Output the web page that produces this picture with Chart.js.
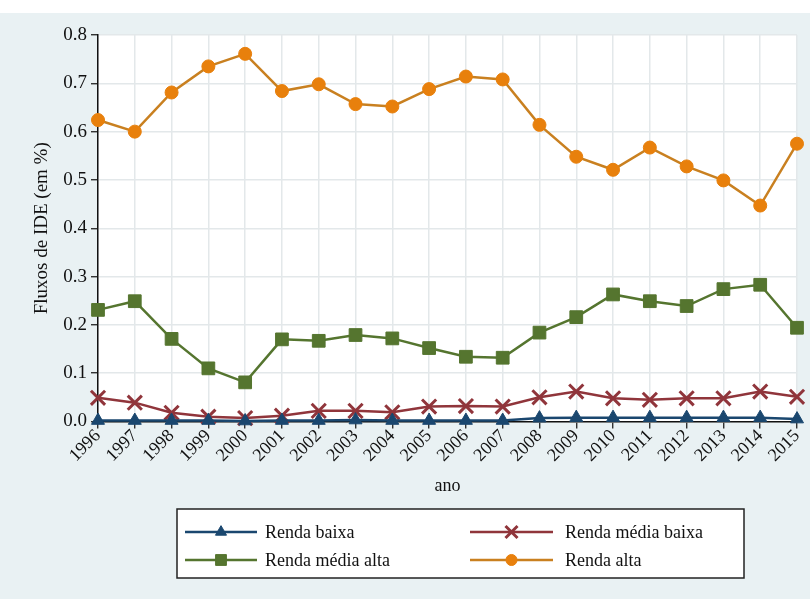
<!DOCTYPE html>
<html>
<head>
<meta charset="utf-8">
<script src="https://cdn.jsdelivr.net/npm/chart.js@4.4.1/dist/chart.umd.min.js"></script>
<style>
  html, body { margin: 0; padding: 0; background: #ffffff; }
  #wrap { position: absolute; left: 0; top: 13px; width: 810px; height: 586px; background: #e9f1f3; }
</style>
</head>
<body>
<div id="wrap"><canvas id="chart"></canvas></div>
<script>
// Fluxos de IDE por grupo de renda, 1996-2015
const years = ['1996','1997','1998','1999','2000','2001','2002','2003','2004','2005',
               '2006','2007','2008','2009','2010','2011','2012','2013','2014','2015'];
const yTicks = [0, 0.1, 0.2, 0.3, 0.4, 0.5, 0.6, 0.7, 0.8];

const rendaBaixa      = [0.002,0.002,0.002,0.002,0.001,0.002,0.002,0.003,0.002,0.002,
                         0.002,0.002,0.007,0.008,0.008,0.008,0.008,0.008,0.008,0.005];
const rendaMediaBaixa = [0.049,0.039,0.018,0.010,0.007,0.012,0.022,0.022,0.019,0.031,
                         0.032,0.031,0.050,0.062,0.048,0.045,0.048,0.048,0.062,0.051];
const rendaMediaAlta  = [0.231,0.249,0.171,0.110,0.081,0.170,0.167,0.179,0.172,0.152,
                         0.134,0.132,0.184,0.216,0.263,0.249,0.239,0.274,0.283,0.194];
const rendaAlta       = [0.624,0.600,0.681,0.735,0.761,0.684,0.698,0.657,0.652,0.688,
                         0.714,0.708,0.614,0.548,0.521,0.567,0.528,0.499,0.447,0.575];

const SERIF = "'Liberation Serif', 'DejaVu Serif', serif";

function series(label, data, line, fill, style, radius, bw){
    return {
        label: label,
        data: data,
        borderColor: line,
        backgroundColor: fill,
        borderWidth: 2.5,
        pointStyle: style,
        pointRadius: radius,
        pointHoverRadius: radius,
        pointBackgroundColor: fill,
        pointBorderColor: fill,
        pointBorderWidth: bw,
        tension: 0,
        clip: false
    };
}

const datasets = [
    series('Renda baixa', rendaBaixa, '#1a476f', '#1a476f', 'triangle', 7.5, 1),
    series('Renda média baixa', rendaMediaBaixa, '#90353b', '#90353b', 'crossRot', 10, 3),
    series('Renda média alta', rendaMediaAlta, '#55752f', '#55752f', 'rect', 9, 1),
    series('Renda alta', rendaAlta, '#c98020', '#e8800c', 'circle', 6.5, 1)
];

// white plot region
const plotBg = {
    id: 'plotBg',
    beforeDraw(chart){
        const a = chart.chartArea, ctx = chart.ctx;
        ctx.save();
        ctx.fillStyle = '#ffffff';
        ctx.fillRect(a.left, a.top, a.right - a.left, a.bottom - a.top);
        ctx.restore();
    }
};

// boxed legend, two columns like the Stata key
const boxLegend = {
    id: 'boxLegend',
    afterDraw(chart){
        const ctx = chart.ctx;
        const box = { x: 177, y: 496, w: 567, h: 69 };
        const rows = [519, 547];
        const cols = [{ x0: 185, x1: 257, tx: 265 }, { x0: 470, x1: 553, tx: 565 }];
        ctx.save();
        ctx.fillStyle = '#ffffff';
        ctx.fillRect(box.x, box.y, box.w, box.h);
        ctx.strokeStyle = '#222222';
        ctx.lineWidth = 1.5;
        ctx.strokeRect(box.x, box.y, box.w, box.h);
        ctx.font = '18px ' + SERIF;
        ctx.textBaseline = 'middle';
        ctx.textAlign = 'left';
        chart.data.datasets.forEach((ds, i) => {
            const c = cols[i % 2], y = rows[Math.floor(i / 2)];
            ctx.strokeStyle = ds.borderColor;
            ctx.lineWidth = ds.borderWidth;
            ctx.beginPath();
            ctx.moveTo(c.x0, y);
            ctx.lineTo(c.x1, y);
            ctx.stroke();
            ctx.fillStyle = ds.pointBackgroundColor;
            ctx.strokeStyle = ds.pointBorderColor;
            ctx.lineWidth = ds.pointBorderWidth;
            Chart.helpers.drawPoint(ctx, {
                pointStyle: ds.pointStyle, radius: ds.pointRadius * 0.85, rotation: 0, borderWidth: ds.pointBorderWidth
            }, (c.x0 + c.x1) / 2, y);
            ctx.fillStyle = '#111111';
            ctx.fillText(ds.label, c.tx, y + 1);
        });
        ctx.restore();
    }
};

new Chart(document.getElementById('chart'), {
    type: 'line',
    data: { labels: years, datasets: datasets },
    plugins: [plotBg, boxLegend],
    options: {
        responsive: true,
        maintainAspectRatio: false,
        animation: false,
        layout: { padding: { left: 0, right: 13, top: 22, bottom: 102 } },
        plugins: { legend: { display: false }, tooltip: { enabled: false } },
        scales: {
            x: {
                type: 'category',
                offset: false,
                afterFit(scale){ scale.height = 75.5; },
                grid: { color: '#e3e8ea', lineWidth: 1.5, tickColor: '#111111', tickLength: 7, tickWidth: 1.2 },
                border: { color: '#111111', width: 1.5 },
                ticks: { autoSkip: false, maxRotation: 45, minRotation: 45, padding: -3,
                         color: '#111111', font: { family: SERIF, size: 18 } },
                title: { display: true, text: 'ano', color: '#111111', padding: 0,
                         font: { family: SERIF, size: 18 } }
            },
            y: {
                min: 0,
                max: 0.8,
                afterFit(scale){ scale.width = 98; },
                afterBuildTicks(scale){ scale.ticks = yTicks.map(v => ({ value: v })); },
                grid: { color: '#e3e8ea', lineWidth: 1.5, tickColor: '#111111', tickLength: 7, tickWidth: 1.2 },
                border: { color: '#111111', width: 1.5 },
                ticks: { color: '#111111', padding: 4, font: { family: SERIF, size: 19 },
                         callback: v => Number(v).toFixed(1) },
                title: { display: true, text: 'Fluxos de IDE (em %)', color: '#111111',
                         padding: { top: 31, bottom: 0 }, font: { family: SERIF, size: 19 } }
            }
        }
    }
});
</script>
</body>
</html>
